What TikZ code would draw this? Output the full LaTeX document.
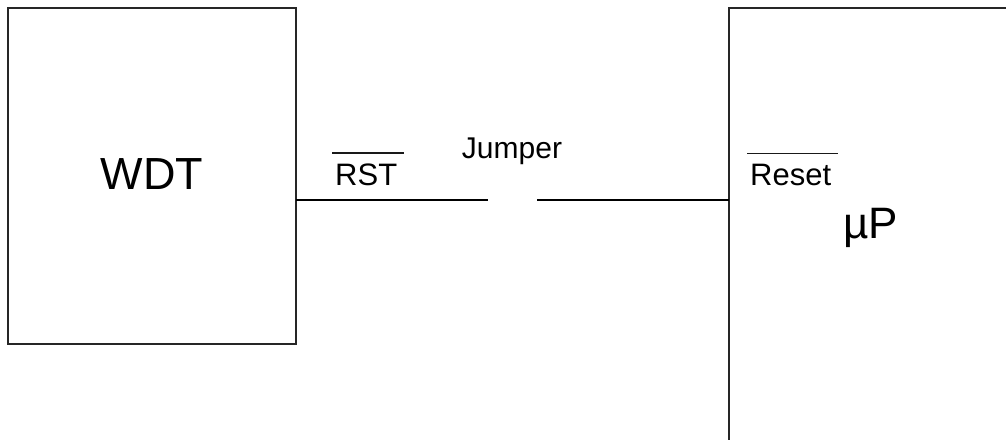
\documentclass[tikz,border=0pt]{standalone}
\usepackage{fontspec}
\setmainfont{Liberation Sans}
\usepackage{tikz}
\usetikzlibrary{positioning,calc}

\begin{document}
\begin{tikzpicture}[
    x=1pt, y=-1pt,
    block/.style={rectangle, draw=black!85, line width=1.6pt, outer sep=0pt, inner sep=0pt},
    signal/.style={anchor=base west, inner xsep=3pt, inner ysep=10pt, font=\fontsize{31}{36}\selectfont,
        append after command={(\tikzlastnode.north west) edge[line width=1.7pt, black!90] ([xshift=4pt]\tikzlastnode.north east)}},
    wire/.style={line width=1.3pt}
]
    \clip (0,0) rectangle (1006,439);

    % Blocks
    \node[block, minimum width=288pt, minimum height=336pt, font=\fontsize{45}{50}\selectfont] (wdt) at (152,176) {\raisebox{4pt}{WDT}};
    \node[block, minimum width=301pt, minimum height=452pt] (mcu) at (879.5,234) {};
    \node[anchor=base west, inner sep=0pt, font=\fontsize{44}{50}\selectfont] (mup) at (843,238) {µP};

    % Jumper gap
    \coordinate (jL) at (488,200);
    \coordinate (jR) at (537,200);
    \node[anchor=base, inner sep=0pt, font=\fontsize{30}{36}\selectfont] (jumper) at (512,158) {Jumper};

    % Wire
    \draw[wire] (wdt.east |- jL) -- (jL);
    \draw[wire] (jR) -- (mcu.west |- jR);

    % Active-low labels
    \node[signal] (rst) at (332,185) {RST};
    \node[signal] (reset) at (747,185) {Reset};
\end{tikzpicture}
\end{document}
